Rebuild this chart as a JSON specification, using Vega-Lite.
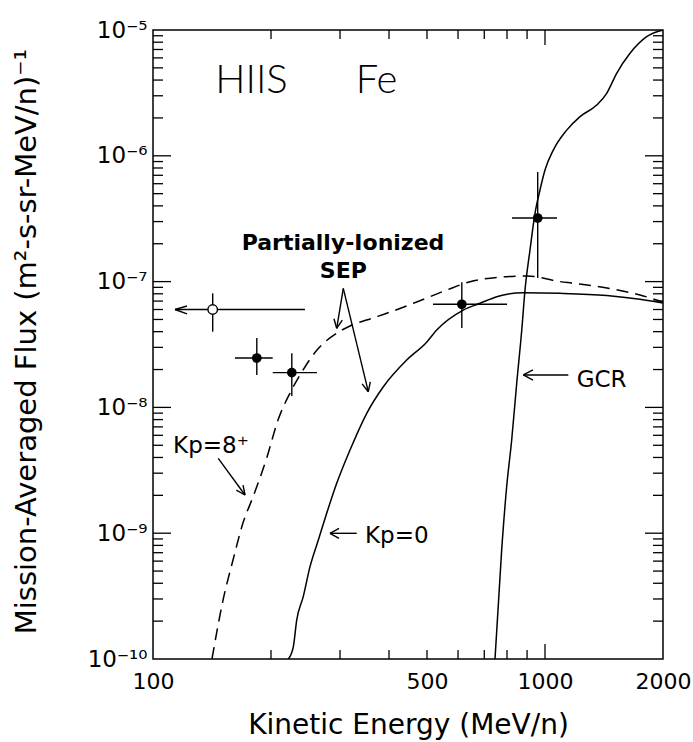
{
  "$schema": "https://vega.github.io/schema/vega-lite/v6.json",
  "width": 510,
  "height": 629,
  "autosize": "none",
  "padding": {"left": 153, "top": 30, "right": 30, "bottom": 83},
  "background": "white",
  "config": {
    "view": {"stroke": "black", "strokeWidth": 1.5},
    "font": "DejaVu Sans",
    "axis": {"grid": false, "domain": false, "labelColor": "black", "titleColor": "black", "labelFont": "DejaVu Sans", "titleFont": "DejaVu Sans"}
  },
  "datasets": {
    "curves": [
      {"curve": "Kp=8+", "E": 141.4, "F": 1.0e-10},
      {"curve": "Kp=8+", "E": 150.9, "F": 2.94e-10},
      {"curve": "Kp=8+", "E": 160.0, "F": 6.12e-10},
      {"curve": "Kp=8+", "E": 169.7, "F": 1.21e-9},
      {"curve": "Kp=8+", "E": 179.9, "F": 1.94e-9},
      {"curve": "Kp=8+", "E": 195.4, "F": 4.04e-9},
      {"curve": "Kp=8+", "E": 208.4, "F": 7.94e-9},
      {"curve": "Kp=8+", "E": 223.6, "F": 1.30e-8},
      {"curve": "Kp=8+", "E": 241.3, "F": 1.98e-8},
      {"curve": "Kp=8+", "E": 262.0, "F": 2.86e-8},
      {"curve": "Kp=8+", "E": 294.7, "F": 3.90e-8},
      {"curve": "Kp=8+", "E": 318.1, "F": 4.44e-8},
      {"curve": "Kp=8+", "E": 364.1, "F": 5.14e-8},
      {"curve": "Kp=8+", "E": 394.7, "F": 5.6e-8},
      {"curve": "Kp=8+", "E": 461.4, "F": 6.72e-8},
      {"curve": "Kp=8+", "E": 561.5, "F": 8.57e-8},
      {"curve": "Kp=8+", "E": 643.8, "F": 9.98e-8},
      {"curve": "Kp=8+", "E": 753.2, "F": 1.08e-7},
      {"curve": "Kp=8+", "E": 898, "F": 1.108e-7},
      {"curve": "Kp=8+", "E": 1092, "F": 1.0e-7},
      {"curve": "Kp=8+", "E": 1179, "F": 9.7e-8},
      {"curve": "Kp=8+", "E": 1439, "F": 8.9e-8},
      {"curve": "Kp=8+", "E": 1747, "F": 7.82e-8},
      {"curve": "Kp=8+", "E": 2000, "F": 6.89e-8},
      {"curve": "Kp=0", "E": 221.4, "F": 1.0e-10},
      {"curve": "Kp=0", "E": 228.0, "F": 1.25e-10},
      {"curve": "Kp=0", "E": 232.6, "F": 2.04e-10},
      {"curve": "Kp=0", "E": 241.7, "F": 3.13e-10},
      {"curve": "Kp=0", "E": 251.5, "F": 5.42e-10},
      {"curve": "Kp=0", "E": 264.1, "F": 8.83e-10},
      {"curve": "Kp=0", "E": 277.4, "F": 1.44e-9},
      {"curve": "Kp=0", "E": 294.2, "F": 2.49e-9},
      {"curve": "Kp=0", "E": 318.1, "F": 4.58e-9},
      {"curve": "Kp=0", "E": 351, "F": 8.98e-9},
      {"curve": "Kp=0", "E": 386.9, "F": 1.46e-8},
      {"curve": "Kp=0", "E": 443.8, "F": 2.38e-8},
      {"curve": "Kp=0", "E": 499, "F": 3.3e-8},
      {"curve": "Kp=0", "E": 529.3, "F": 4.12e-8},
      {"curve": "Kp=0", "E": 618.8, "F": 5.94e-8},
      {"curve": "Kp=0", "E": 682.8, "F": 6.72e-8},
      {"curve": "Kp=0", "E": 753.2, "F": 7.59e-8},
      {"curve": "Kp=0", "E": 880.4, "F": 8.16e-8},
      {"curve": "Kp=0", "E": 1092, "F": 8.07e-8},
      {"curve": "Kp=0", "E": 1437, "F": 7.75e-8},
      {"curve": "Kp=0", "E": 1747, "F": 7.23e-8},
      {"curve": "Kp=0", "E": 2000, "F": 6.76e-8},
      {"curve": "GCR", "E": 745.5, "F": 1.0e-10},
      {"curve": "GCR", "E": 775.3, "F": 7.35e-10},
      {"curve": "GCR", "E": 798.4, "F": 2.34e-9},
      {"curve": "GCR", "E": 822.3, "F": 5.51e-9},
      {"curve": "GCR", "E": 847.0, "F": 1.56e-8},
      {"curve": "GCR", "E": 872.4, "F": 4.12e-8},
      {"curve": "GCR", "E": 889.2, "F": 8.57e-8},
      {"curve": "GCR", "E": 915.6, "F": 1.78e-7},
      {"curve": "GCR", "E": 943.0, "F": 3.49e-7},
      {"curve": "GCR", "E": 971.0, "F": 5.35e-7},
      {"curve": "GCR", "E": 1000, "F": 7.71e-7},
      {"curve": "GCR", "E": 1050, "F": 1.11e-6},
      {"curve": "GCR", "E": 1136, "F": 1.60e-6},
      {"curve": "GCR", "E": 1228.6, "F": 2.05e-6},
      {"curve": "GCR", "E": 1355.1, "F": 2.53e-6},
      {"curve": "GCR", "E": 1437, "F": 3.14e-6},
      {"curve": "GCR", "E": 1523.7, "F": 4.53e-6},
      {"curve": "GCR", "E": 1647.8, "F": 6.53e-6},
      {"curve": "GCR", "E": 1817, "F": 8.85e-6},
      {"curve": "GCR", "E": 2000, "F": 1.0e-5}
    ],
    "points": [
      {"E": 142, "F": 6.0e-8, "Elo": 113.8, "Ehi": 244.1, "Flo": 4.0e-8, "Fhi": 8.07e-8, "kind": "open"},
      {"E": 184, "F": 2.47e-8, "Elo": 161.8, "Ehi": 202, "Flo": 1.81e-8, "Fhi": 3.56e-8, "kind": "closed"},
      {"E": 226, "F": 1.89e-8, "Elo": 202, "Ehi": 262, "Flo": 1.23e-8, "Fhi": 2.7e-8, "kind": "closed"},
      {"E": 613.5, "F": 6.6e-8, "Elo": 518, "Ehi": 800, "Flo": 4.27e-8, "Fhi": 9.9e-8, "kind": "closed"},
      {"E": 958, "F": 3.2e-7, "Elo": 824, "Ehi": 1073, "Flo": 1.07e-7, "Fhi": 7.43e-7, "kind": "closed"}
    ],
    "arrows": [
      {"x": 113.8, "y": 6.0e-8, "x2": 122.1, "y2": 6.4e-8},
      {"x": 113.8, "y": 6.0e-8, "x2": 122.1, "y2": 5.53e-8},
      {"x": 305.8, "y": 8.846e-8, "x2": 294.2, "y2": 4.254e-8},
      {"x": 294.2, "y": 4.254e-8, "x2": 304.0, "y2": 4.943e-8},
      {"x": 294.2, "y": 4.254e-8, "x2": 289.5, "y2": 5.07e-8},
      {"x": 305.8, "y": 8.846e-8, "x2": 354.2, "y2": 1.333e-8},
      {"x": 354.2, "y": 1.333e-8, "x2": 358.4, "y2": 1.595e-8},
      {"x": 354.2, "y": 1.333e-8, "x2": 341.6, "y2": 1.537e-8},
      {"x": 146.7, "y": 3.938e-9, "x2": 171.7, "y2": 2.012e-9},
      {"x": 171.7, "y": 2.012e-9, "x2": 169.7, "y2": 2.407e-9},
      {"x": 171.7, "y": 2.012e-9, "x2": 163.1, "y2": 2.196e-9},
      {"x": 330.9, "y": 9.98e-10, "x2": 282.8, "y2": 9.98e-10},
      {"x": 282.8, "y": 9.98e-10, "x2": 298.2, "y2": 1.094e-9},
      {"x": 282.8, "y": 9.98e-10, "x2": 298.2, "y2": 9.11e-10},
      {"x": 1146.9, "y": 1.81e-8, "x2": 880.4, "y2": 1.81e-8},
      {"x": 880.4, "y": 1.81e-8, "x2": 931.8, "y2": 1.983e-8},
      {"x": 880.4, "y": 1.81e-8, "x2": 931.8, "y2": 1.651e-8}
    ],
    "texts": [
      {"label": "HIIS", "E": 178.4, "F": 3.155e-6},
      {"label": "Fe", "E": 371.7, "F": 3.155e-6},
      {"label": "Partially-Ionized", "E": 305.3, "F": 1.783e-7},
      {"label": "SEP", "E": 305.8, "F": 1.068e-7},
      {"label": "Kp=8⁺", "E": 112.5, "F": 4.316e-9},
      {"label": "Kp=0", "E": 347.4, "F": 8.31e-10},
      {"label": "GCR", "E": 1204.9, "F": 1.46e-8}
    ],
    "xticks": [
      {"v": 200, "kind": "minor"}, {"v": 300, "kind": "minor"}, {"v": 400, "kind": "minor"}, {"v": 500, "kind": "minor"},
      {"v": 600, "kind": "minor"}, {"v": 700, "kind": "minor"}, {"v": 800, "kind": "minor"}, {"v": 900, "kind": "minor"},
      {"v": 1000, "kind": "major"}
    ],
    "yticks": [
      {"v": 2e-10, "kind": "minor"}, {"v": 3e-10, "kind": "minor"}, {"v": 4e-10, "kind": "minor"}, {"v": 5e-10, "kind": "minor"}, {"v": 6e-10, "kind": "minor"}, {"v": 7e-10, "kind": "minor"}, {"v": 8e-10, "kind": "minor"}, {"v": 9e-10, "kind": "minor"},
      {"v": 1e-9, "kind": "major"},
      {"v": 2e-9, "kind": "minor"}, {"v": 3e-9, "kind": "minor"}, {"v": 4e-9, "kind": "minor"}, {"v": 5e-9, "kind": "minor"}, {"v": 6e-9, "kind": "minor"}, {"v": 7e-9, "kind": "minor"}, {"v": 8e-9, "kind": "minor"}, {"v": 9e-9, "kind": "minor"},
      {"v": 1e-8, "kind": "major"},
      {"v": 2e-8, "kind": "minor"}, {"v": 3e-8, "kind": "minor"}, {"v": 4e-8, "kind": "minor"}, {"v": 5e-8, "kind": "minor"}, {"v": 6e-8, "kind": "minor"}, {"v": 7e-8, "kind": "minor"}, {"v": 8e-8, "kind": "minor"}, {"v": 9e-8, "kind": "minor"},
      {"v": 1e-7, "kind": "major"},
      {"v": 2e-7, "kind": "minor"}, {"v": 3e-7, "kind": "minor"}, {"v": 4e-7, "kind": "minor"}, {"v": 5e-7, "kind": "minor"}, {"v": 6e-7, "kind": "minor"}, {"v": 7e-7, "kind": "minor"}, {"v": 8e-7, "kind": "minor"}, {"v": 9e-7, "kind": "minor"},
      {"v": 1e-6, "kind": "major"},
      {"v": 2e-6, "kind": "minor"}, {"v": 3e-6, "kind": "minor"}, {"v": 4e-6, "kind": "minor"}, {"v": 5e-6, "kind": "minor"}, {"v": 6e-6, "kind": "minor"}, {"v": 7e-6, "kind": "minor"}, {"v": 8e-6, "kind": "minor"}, {"v": 9e-6, "kind": "minor"}
    ]
  },
  "encoding": {
    "x": {"type": "quantitative", "scale": {"type": "log", "domain": [100, 2000]},
      "axis": {"orient": "bottom", "values": [100, 500, 1000, 2000], "format": "d", "ticks": false, "tickSize": 0, "labelPadding": 12, "labelFontSize": 22, "labelFlush": false, "labelOverlap": false,
        "title": "Kinetic Energy (MeV/n)", "titleFontSize": 28, "titleFontWeight": "normal", "titleY": 74, "titleBaseline": "alphabetic"}},
    "y": {"type": "quantitative", "scale": {"type": "log", "domain": [1e-10, 1e-5]},
      "axis": {"orient": "left", "values": [1e-10, 1e-9, 1e-8, 1e-7, 1e-6, 1e-5], "ticks": false, "tickSize": 0, "labelPadding": 6, "labelFontSize": 23, "labelFlush": false, "labelOverlap": false,
        "labelExpr": "'10⁻' + ['0','¹','²','³','⁴','⁵','⁶','⁷','⁸','⁹','¹⁰'][round(-log(datum.value)/LN10)]",
        "title": "Mission-Averaged Flux (m²-s-sr-MeV/n)⁻¹", "titleFontSize": 29, "titleFontWeight": "normal", "titleX": -127, "titleY": 311, "titleAngle": 270, "titleBaseline": "middle", "titleAlign": "center"}}
  },
  "layer": [
    {
      "data": {"name": "xticks"},
      "transform": [{"filter": "datum.kind === 'minor'"}],
      "mark": {"type": "rule", "color": "black", "strokeWidth": 1.3},
      "encoding": {"x": {"field": "v"}, "y": {"datum": 1e-10}, "y2": {"datum": 1.179e-10}}
    },
    {
      "data": {"name": "xticks"},
      "transform": [{"filter": "datum.kind === 'major'"}],
      "mark": {"type": "rule", "color": "black", "strokeWidth": 1.3},
      "encoding": {"x": {"field": "v"}, "y": {"datum": 1e-10}, "y2": {"datum": 1.316e-10}}
    },
    {
      "data": {"name": "xticks"},
      "transform": [{"filter": "datum.kind === 'minor'"}],
      "mark": {"type": "rule", "color": "black", "strokeWidth": 1.3},
      "encoding": {"x": {"field": "v"}, "y": {"datum": 1e-5}, "y2": {"datum": 8.48e-6}}
    },
    {
      "data": {"name": "xticks"},
      "transform": [{"filter": "datum.kind === 'major'"}],
      "mark": {"type": "rule", "color": "black", "strokeWidth": 1.3},
      "encoding": {"x": {"field": "v"}, "y": {"datum": 1e-5}, "y2": {"datum": 7.6e-6}}
    },
    {
      "data": {"name": "yticks"},
      "transform": [{"filter": "datum.kind === 'minor'"}],
      "mark": {"type": "rule", "color": "black", "strokeWidth": 1.3},
      "encoding": {"y": {"field": "v"}, "x": {"datum": 100}, "x2": {"datum": 106.05}}
    },
    {
      "data": {"name": "yticks"},
      "transform": [{"filter": "datum.kind === 'major'"}],
      "mark": {"type": "rule", "color": "black", "strokeWidth": 1.3},
      "encoding": {"y": {"field": "v"}, "x": {"datum": 100}, "x2": {"datum": 111.15}}
    },
    {
      "data": {"name": "yticks"},
      "transform": [{"filter": "datum.kind === 'minor'"}],
      "mark": {"type": "rule", "color": "black", "strokeWidth": 1.3},
      "encoding": {"y": {"field": "v"}, "x": {"datum": 2000}, "x2": {"datum": 1885.9}}
    },
    {
      "data": {"name": "yticks"},
      "transform": [{"filter": "datum.kind === 'major'"}],
      "mark": {"type": "rule", "color": "black", "strokeWidth": 1.3},
      "encoding": {"y": {"field": "v"}, "x": {"datum": 2000}, "x2": {"datum": 1799.4}}
    },
    {
      "data": {"name": "curves"},
      "transform": [{"filter": "datum.curve === 'Kp=8+'"}],
      "mark": {"type": "line", "color": "black", "strokeWidth": 1.5, "strokeDash": [12, 7], "clip": true, "interpolate": "monotone"},
      "encoding": {"x": {"field": "E"}, "y": {"field": "F"}}
    },
    {
      "data": {"name": "curves"},
      "transform": [{"filter": "datum.curve !== 'Kp=8+'"}],
      "mark": {"type": "line", "color": "black", "strokeWidth": 1.5, "clip": true, "interpolate": "monotone"},
      "encoding": {"detail": {"field": "curve"}, "x": {"field": "E"}, "y": {"field": "F"}}
    },
    {
      "data": {"name": "points"},
      "mark": {"type": "rule", "color": "black", "strokeWidth": 1.4},
      "encoding": {"x": {"field": "E"}, "y": {"field": "Flo"}, "y2": {"field": "Fhi"}}
    },
    {
      "data": {"name": "points"},
      "mark": {"type": "rule", "color": "black", "strokeWidth": 1.4},
      "encoding": {"x": {"field": "Elo"}, "x2": {"field": "Ehi"}, "y": {"field": "F"}}
    },
    {
      "data": {"name": "points"},
      "transform": [{"filter": "datum.kind === 'closed'"}],
      "mark": {"type": "point", "shape": "circle", "filled": true, "color": "black", "opacity": 1, "size": 95},
      "encoding": {"x": {"field": "E"}, "y": {"field": "F"}}
    },
    {
      "data": {"name": "points"},
      "transform": [{"filter": "datum.kind === 'open'"}],
      "mark": {"type": "point", "shape": "circle", "filled": true, "fill": "white", "stroke": "black", "strokeWidth": 1.4, "opacity": 1, "size": 90},
      "encoding": {"x": {"field": "E"}, "y": {"field": "F"}}
    },
    {
      "data": {"name": "arrows"},
      "mark": {"type": "rule", "color": "black", "strokeWidth": 1.4},
      "encoding": {"x": {"field": "x"}, "x2": {"field": "x2"}, "y": {"field": "y"}, "y2": {"field": "y2"}}
    },
    {
      "data": {"name": "texts"},
      "transform": [{"filter": "datum.label === 'HIIS' || datum.label === 'Fe'"}],
      "mark": {"type": "text", "font": "Lato", "fontWeight": 300, "fontSize": 40, "align": "center", "baseline": "alphabetic", "color": "black"},
      "encoding": {"text": {"field": "label"}, "x": {"field": "E"}, "y": {"field": "F"}}
    },
    {
      "data": {"name": "texts"},
      "transform": [{"filter": "datum.label === 'Partially-Ionized' || datum.label === 'SEP'"}],
      "mark": {"type": "text", "font": "DejaVu Sans", "fontWeight": "bold", "fontSize": 22, "align": "center", "baseline": "alphabetic", "color": "black"},
      "encoding": {"text": {"field": "label"}, "x": {"field": "E"}, "y": {"field": "F"}}
    },
    {
      "data": {"name": "texts"},
      "transform": [{"filter": "datum.label === 'Kp=8⁺' || datum.label === 'Kp=0' || datum.label === 'GCR'"}],
      "mark": {"type": "text", "font": "DejaVu Sans", "fontSize": 23, "align": "left", "baseline": "alphabetic", "color": "black"},
      "encoding": {"text": {"field": "label"}, "x": {"field": "E"}, "y": {"field": "F"}}
    }
  ]
}
